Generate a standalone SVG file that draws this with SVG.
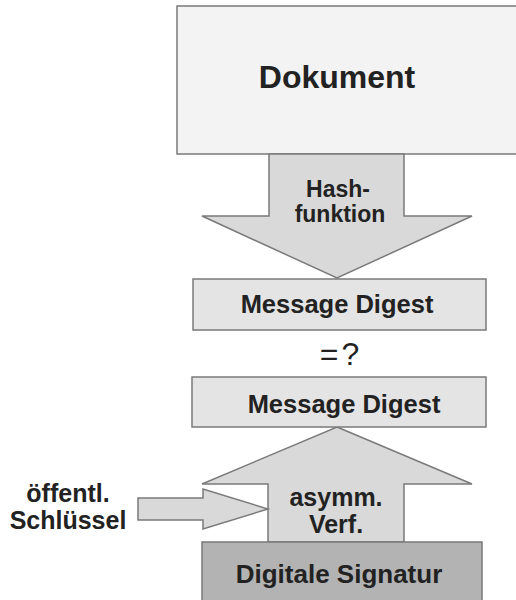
<svg xmlns="http://www.w3.org/2000/svg" width="516" height="600" viewBox="0 0 516 600">
  <style>
    .box { stroke: #7a7a7a; stroke-width: 1.5; }
    .doc { fill: #f3f3f3; }
    .md { fill: #e4e4e4; }
    .sig { fill: #b3b3b3; }
    .arr { fill: #d9d9d9; stroke: #7a7a7a; stroke-width: 1.5; stroke-linejoin: miter; }
    .t { font-family: "Liberation Sans", Arial, sans-serif; font-weight: bold; fill: #222; text-anchor: middle; }
  </style>
  <rect width="516" height="600" fill="#ffffff"/>
  <g id="dokument">
    <rect class="box doc" x="177" y="6" width="345" height="148"/>
    <text class="t" x="337" y="88" font-size="32">Dokument</text>
  </g>
  <g id="connectors">
    <g id="hashfunktion">
      <polygon class="arr" points="269,154 404,154 404,216 472,216 337,278 202,216 269,216"/>
      <text class="t" x="338" y="197" font-size="23">Hash-</text>
      <text class="t" x="340" y="222" font-size="23">funktion</text>
    </g>
    <g id="asymm-verf">
      <polygon class="arr" points="337,427 472,484 404,484 404,542 268,542 268,484 202,484"/>
      <text class="t" x="336" y="506" font-size="25">asymm.</text>
      <text class="t" x="336" y="533" font-size="25">Verf.</text>
    </g>
    <g id="schluessel-pfeil">
      <polygon class="arr" points="138,498 203,498 203,489 268,509 203,529 203,520 138,520"/>
    </g>
  </g>
  <g id="message-digest-1">
    <rect class="box md" x="193" y="279" width="293" height="51"/>
    <text class="t" x="337" y="313" font-size="25.5">Message Digest</text>
  </g>
  <g id="vergleich">
    <text x="341" y="365" font-family="Liberation Sans, Arial, sans-serif" font-size="32" fill="#222" text-anchor="middle" letter-spacing="3">=?</text>
  </g>
  <g id="message-digest-2">
    <rect class="box md" x="192" y="377" width="294" height="50"/>
    <text class="t" x="344" y="413" font-size="25.5">Message Digest</text>
  </g>
  <g id="oeffentl-schluessel">
    <text class="t" x="68" y="502" font-size="25">öffentl.</text>
    <text class="t" x="68" y="529" font-size="25">Schlüssel</text>
  </g>
  <g id="digitale-signatur">
    <rect class="box sig" x="202" y="542" width="280" height="70"/>
    <text class="t" x="339" y="583" font-size="26">Digitale Signatur</text>
  </g>
</svg>
